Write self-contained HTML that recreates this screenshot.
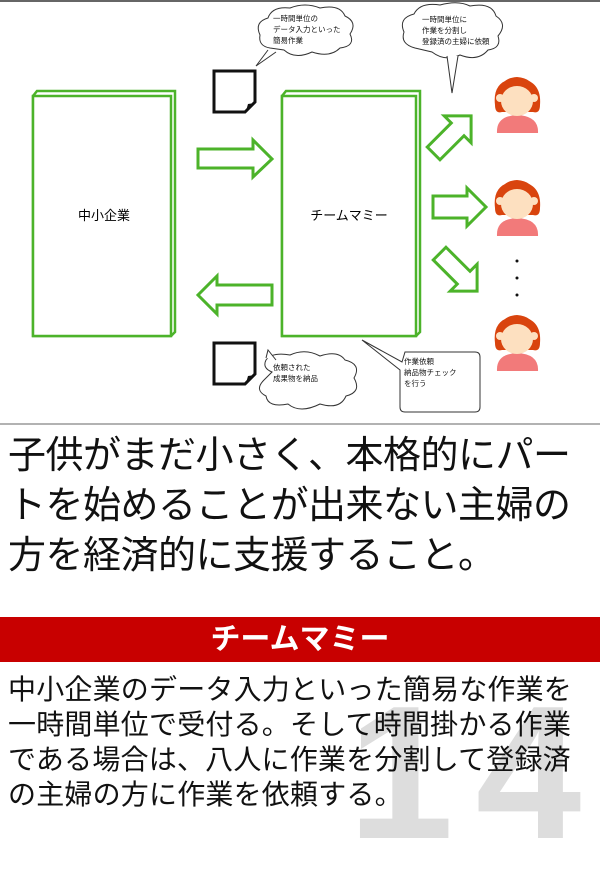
<!DOCTYPE html>
<html><head><meta charset="utf-8"><style>
body{margin:0;width:600px;height:849px;overflow:hidden;background:#fff;font-family:"Liberation Sans","Noto Sans CJK JP",sans-serif;position:relative}
.big{position:absolute;left:8px;top:431px;font-size:38px;line-height:50px;color:#111;white-space:nowrap;letter-spacing:-0.5px}
.banner{position:absolute;left:0;top:617px;width:600px;height:45px;background:#c80000;color:#fff;font-weight:bold;font-size:30px;line-height:45px;text-align:center}
.body{position:absolute;left:8px;top:672px;font-size:28px;line-height:35px;color:#111;white-space:nowrap;letter-spacing:0.2px}
.wm{position:absolute;left:348px;top:678px;font-size:190px;font-weight:bold;color:#ddd;line-height:190px;font-family:"Liberation Sans",sans-serif;letter-spacing:22px}
</style></head><body>
<div class="wm">14</div>
<svg width="600" height="425" style="position:absolute;left:0;top:0" font-family="Liberation Sans, Noto Sans CJK JP, sans-serif">
<line x1="0" y1="1" x2="600" y2="1" stroke="#666" stroke-width="2"/>
<line x1="0" y1="424" x2="600" y2="424" stroke="#999" stroke-width="1.5"/>
<g fill="#fff" stroke="#4cb32a" stroke-width="2.5">
<polygon points="33,96 37,91 175,91 175,332 171,336 33,336"/>
<rect x="33" y="96" width="138" height="240"/>
<polygon points="282,96 286,91 420,91 420,332 416,336 282,336"/>
<rect x="282" y="96" width="134" height="240"/>
</g>
<text x="104" y="220" font-size="13" text-anchor="middle">中小企業</text>
<text x="349" y="220" font-size="13" text-anchor="middle">チームマミー</text>
<g fill="#fff" stroke="#4cb32a" stroke-width="3" stroke-linejoin="miter">
<polygon points="198,149 253,149 253,140 272,159 253,177 253,168 198,168"/>
<polygon points="272,285 217,285 217,276 198,295 217,314 217,305 272,305"/>
<g transform="translate(452,135) rotate(-45)"><polygon points="-26,-9 8,-9 8,-19 27,0 8,19 8,9 -26,9"/></g>
<polygon points="433,196 467,196 467,188 486,207 467,226 467,218 433,218"/>
<g transform="translate(458,272) rotate(45)"><polygon points="-26,-9 8,-9 8,-19 27,0 8,19 8,9 -26,9"/></g>
</g>
<g fill="#fff" stroke="#111" stroke-width="3">
<polygon points="214,71 255,71 255,102 245,112 214,112"/>
<polygon points="214,343 255,343 255,374 245,384 214,384"/>
</g>
<polygon points="246,111 248,104 255,103" fill="#111"/>
<polygon points="246,383 248,376 255,375" fill="#111"/>
<g fill="#fff" stroke="#333" stroke-width="1">
<path d="M270,48 Q258,46 260,35 Q254,22 268,18 Q272,6 290,8 Q305,2 320,8 Q340,4 345,16 Q358,22 350,34 Q356,46 340,48 Q330,58 312,52 Q295,60 284,50 Z"/>
<path d="M268,50 L256,66 L276,52" />
<path d="M415,48 Q400,44 404,32 Q398,18 414,14 Q420,2 440,5 Q458,0 470,6 Q492,2 496,16 Q508,24 498,36 Q502,48 488,50 Q478,62 460,55 Q445,62 432,52 Z"/>
<path d="M447,56 L452,93 L458,56"/>
<path d="M272,372 Q262,368 266,360 Q272,352 290,355 Q305,348 320,356 Q338,350 345,360 Q362,364 354,378 Q362,392 346,396 Q340,410 320,404 Q300,414 288,404 Q268,408 266,396 Q254,390 264,380 Z"/>
<path d="M266,358 L268,350 L276,360"/>
<path d="M405,352 L475,352 Q480,352 480,357 L480,407 Q480,412 475,412 L405,412 Q400,412 400,407 L400,370 L362,340 L402,362 Z"/>
</g>
<g font-size="7.5" fill="#111">
<text x="273" y="21">一時間単位の</text><text x="273" y="32">データ入力といった</text><text x="273" y="43">簡易作業</text>
<text x="422" y="22">一時間単位に</text><text x="422" y="33">作業を分割し</text><text x="422" y="44">登録済の主婦に依頼</text>
<text x="273" y="370">依頼された</text><text x="273" y="381">成果物を納品</text>
<text x="404" y="364">作業依頼</text><text x="404" y="375">納品物チェック</text><text x="404" y="386">を行う</text>
</g>
<g id="p">
<path d="M497,133 Q496,116 517,115 Q539,116 538,133 Z" fill="#f27a7a"/>
<path d="M495,105 Q492,80 517,78 Q542,80 540,105 Q540,114 533,112 L502,112 Q495,114 495,105Z" fill="#d9440e"/>
<ellipse cx="517" cy="101" rx="16" ry="15" fill="#fde0c0"/>
<circle cx="500" cy="98" r="4" fill="#fde0c0"/><circle cx="534" cy="98" r="4" fill="#fde0c0"/>
<path d="M500,92 Q505,80 517,86 Q529,80 535,92 Q533,78 517,77 Q501,78 500,92Z" fill="#d9440e"/>
</g>
<use href="#p" y="103"/>
<use href="#p" y="238"/>
<circle cx="517" cy="261" r="1.5" fill="#111"/><circle cx="517" cy="278" r="1.5" fill="#111"/><circle cx="517" cy="295" r="1.5" fill="#111"/>
</svg>
<div class="big">子供がまだ小さく、本格的にパー<br>トを始めることが出来ない主婦の<br>方を経済的に支援すること。</div>
<div class="banner">チームマミー</div>
<div class="body">中小企業のデータ入力といった簡易な作業を<br>一時間単位で受付る。そして時間掛かる作業<br>である場合は、八人に作業を分割して登録済<br>の主婦の方に作業を依頼する。</div>
</body></html>
